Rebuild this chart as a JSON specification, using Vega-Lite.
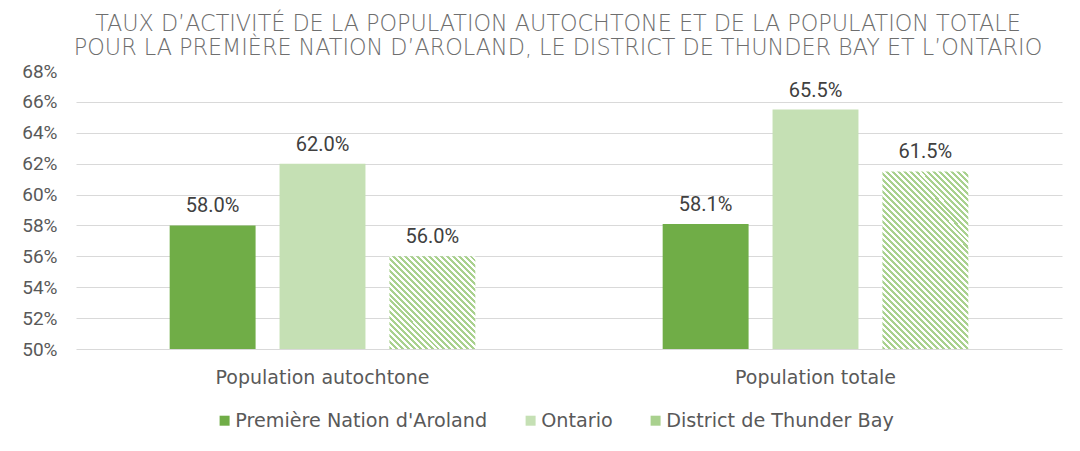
{
  "$schema": "https://vega.github.io/schema/vega-lite/v6.json",
  "width": 986,
  "height": 278,
  "autosize": {"type": "none"},
  "padding": {"left": 76, "top": 71, "right": 18, "bottom": 102},
  "background": "white",
  "config": {"view": {"stroke": null}},
  "title": {
    "text": ["TAUX D’ACTIVITÉ DE LA POPULATION AUTOCHTONE ET DE LA POPULATION TOTALE", "POUR LA PREMIÈRE NATION D’AROLAND, LE DISTRICT DE THUNDER BAY ET L’ONTARIO"],
    "anchor": "middle",
    "font": "DejaVu Sans",
    "fontSize": 22.3,
    "fontWeight": 200,
    "color": "#6e6e6e",
    "lineHeight": 24,
    "offset": 3,
    "dx": -11
  },
  "data": {
    "values": [
      {"group": "Population autochtone", "series": "Première Nation d'Aroland", "value": 0.58},
      {"group": "Population autochtone", "series": "Ontario", "value": 0.62},
      {"group": "Population autochtone", "series": "District de Thunder Bay", "value": 0.56},
      {"group": "Population totale", "series": "Première Nation d'Aroland", "value": 0.581},
      {"group": "Population totale", "series": "Ontario", "value": 0.655},
      {"group": "Population totale", "series": "District de Thunder Bay", "value": 0.615}
    ]
  },
  "encoding": {
    "x": {
      "field": "group", "type": "nominal", "sort": null,
      "scale": {"paddingInner": 0.38, "paddingOuter": 0.19},
      "axis": {"title": null, "labelAngle": 0, "ticks": false, "domain": false, "labelFont": "DejaVu Sans", "labelFontSize": 19, "labelColor": "#595959", "labelPadding": 19, "labelLimit": 600}
    },
    "xOffset": {
      "field": "series", "type": "nominal",
      "sort": ["Première Nation d'Aroland", "Ontario", "District de Thunder Bay"],
      "scale": {"paddingInner": 0.218, "paddingOuter": 0}
    },
    "y": {
      "field": "value", "type": "quantitative",
      "scale": {"domain": [0.5, 0.68], "nice": false, "zero": false},
      "axis": {
        "title": null, "format": ".0%", "values": [0.5, 0.52, 0.54, 0.56, 0.58, 0.6, 0.62, 0.64, 0.66, 0.68],
        "domain": false, "ticks": false, "labelPadding": 19, "labelFont": "Roboto", "labelFontSize": 19, "labelColor": "#595959",
        "gridColor": {"condition": {"test": "datum.value >= 0.679", "value": "transparent"}, "value": "#d9d9d9"}
      }
    }
  },
  "layer": [
    {
      "mark": {"type": "bar"},
      "encoding": {
        "y2": {"datum": 0.5},
        "color": {
          "condition": [
            {"test": "datum.series === 'District de Thunder Bay' && datum.group === 'Population autochtone'", "value": {"gradient": "linear", "x1": 0, "y1": 1, "x2": 0.961, "y2": -0.036, "stops": [
              {"offset": 0, "color": "#a9d18e"}, {"offset": 0.0167, "color": "#a9d18e"}, {"offset": 0.0167, "color": "#ffffff"}, {"offset": 0.0333, "color": "#ffffff"},
              {"offset": 0.0333, "color": "#a9d18e"}, {"offset": 0.05, "color": "#a9d18e"}, {"offset": 0.05, "color": "#ffffff"}, {"offset": 0.0667, "color": "#ffffff"},
              {"offset": 0.0667, "color": "#a9d18e"}, {"offset": 0.0833, "color": "#a9d18e"}, {"offset": 0.0833, "color": "#ffffff"}, {"offset": 0.1, "color": "#ffffff"},
              {"offset": 0.1, "color": "#a9d18e"}, {"offset": 0.1167, "color": "#a9d18e"}, {"offset": 0.1167, "color": "#ffffff"}, {"offset": 0.1333, "color": "#ffffff"},
              {"offset": 0.1333, "color": "#a9d18e"}, {"offset": 0.15, "color": "#a9d18e"}, {"offset": 0.15, "color": "#ffffff"}, {"offset": 0.1667, "color": "#ffffff"},
              {"offset": 0.1667, "color": "#a9d18e"}, {"offset": 0.1833, "color": "#a9d18e"}, {"offset": 0.1833, "color": "#ffffff"}, {"offset": 0.2, "color": "#ffffff"},
              {"offset": 0.2, "color": "#a9d18e"}, {"offset": 0.2167, "color": "#a9d18e"}, {"offset": 0.2167, "color": "#ffffff"}, {"offset": 0.2333, "color": "#ffffff"},
              {"offset": 0.2333, "color": "#a9d18e"}, {"offset": 0.25, "color": "#a9d18e"}, {"offset": 0.25, "color": "#ffffff"}, {"offset": 0.2667, "color": "#ffffff"},
              {"offset": 0.2667, "color": "#a9d18e"}, {"offset": 0.2833, "color": "#a9d18e"}, {"offset": 0.2833, "color": "#ffffff"}, {"offset": 0.3, "color": "#ffffff"},
              {"offset": 0.3, "color": "#a9d18e"}, {"offset": 0.3167, "color": "#a9d18e"}, {"offset": 0.3167, "color": "#ffffff"}, {"offset": 0.3333, "color": "#ffffff"},
              {"offset": 0.3333, "color": "#a9d18e"}, {"offset": 0.35, "color": "#a9d18e"}, {"offset": 0.35, "color": "#ffffff"}, {"offset": 0.3667, "color": "#ffffff"},
              {"offset": 0.3667, "color": "#a9d18e"}, {"offset": 0.3833, "color": "#a9d18e"}, {"offset": 0.3833, "color": "#ffffff"}, {"offset": 0.4, "color": "#ffffff"},
              {"offset": 0.4, "color": "#a9d18e"}, {"offset": 0.4167, "color": "#a9d18e"}, {"offset": 0.4167, "color": "#ffffff"}, {"offset": 0.4333, "color": "#ffffff"},
              {"offset": 0.4333, "color": "#a9d18e"}, {"offset": 0.45, "color": "#a9d18e"}, {"offset": 0.45, "color": "#ffffff"}, {"offset": 0.4667, "color": "#ffffff"},
              {"offset": 0.4667, "color": "#a9d18e"}, {"offset": 0.4833, "color": "#a9d18e"}, {"offset": 0.4833, "color": "#ffffff"}, {"offset": 0.5, "color": "#ffffff"},
              {"offset": 0.5, "color": "#a9d18e"}, {"offset": 0.5167, "color": "#a9d18e"}, {"offset": 0.5167, "color": "#ffffff"}, {"offset": 0.5333, "color": "#ffffff"},
              {"offset": 0.5333, "color": "#a9d18e"}, {"offset": 0.55, "color": "#a9d18e"}, {"offset": 0.55, "color": "#ffffff"}, {"offset": 0.5667, "color": "#ffffff"},
              {"offset": 0.5667, "color": "#a9d18e"}, {"offset": 0.5833, "color": "#a9d18e"}, {"offset": 0.5833, "color": "#ffffff"}, {"offset": 0.6, "color": "#ffffff"},
              {"offset": 0.6, "color": "#a9d18e"}, {"offset": 0.6167, "color": "#a9d18e"}, {"offset": 0.6167, "color": "#ffffff"}, {"offset": 0.6333, "color": "#ffffff"},
              {"offset": 0.6333, "color": "#a9d18e"}, {"offset": 0.65, "color": "#a9d18e"}, {"offset": 0.65, "color": "#ffffff"}, {"offset": 0.6667, "color": "#ffffff"},
              {"offset": 0.6667, "color": "#a9d18e"}, {"offset": 0.6833, "color": "#a9d18e"}, {"offset": 0.6833, "color": "#ffffff"}, {"offset": 0.7, "color": "#ffffff"},
              {"offset": 0.7, "color": "#a9d18e"}, {"offset": 0.7167, "color": "#a9d18e"}, {"offset": 0.7167, "color": "#ffffff"}, {"offset": 0.7333, "color": "#ffffff"},
              {"offset": 0.7333, "color": "#a9d18e"}, {"offset": 0.75, "color": "#a9d18e"}, {"offset": 0.75, "color": "#ffffff"}, {"offset": 0.7667, "color": "#ffffff"},
              {"offset": 0.7667, "color": "#a9d18e"}, {"offset": 0.7833, "color": "#a9d18e"}, {"offset": 0.7833, "color": "#ffffff"}, {"offset": 0.8, "color": "#ffffff"},
              {"offset": 0.8, "color": "#a9d18e"}, {"offset": 0.8167, "color": "#a9d18e"}, {"offset": 0.8167, "color": "#ffffff"}, {"offset": 0.8333, "color": "#ffffff"},
              {"offset": 0.8333, "color": "#a9d18e"}, {"offset": 0.85, "color": "#a9d18e"}, {"offset": 0.85, "color": "#ffffff"}, {"offset": 0.8667, "color": "#ffffff"},
              {"offset": 0.8667, "color": "#a9d18e"}, {"offset": 0.8833, "color": "#a9d18e"}, {"offset": 0.8833, "color": "#ffffff"}, {"offset": 0.9, "color": "#ffffff"},
              {"offset": 0.9, "color": "#a9d18e"}, {"offset": 0.9167, "color": "#a9d18e"}, {"offset": 0.9167, "color": "#ffffff"}, {"offset": 0.9333, "color": "#ffffff"},
              {"offset": 0.9333, "color": "#a9d18e"}, {"offset": 0.95, "color": "#a9d18e"}, {"offset": 0.95, "color": "#ffffff"}, {"offset": 0.9667, "color": "#ffffff"},
              {"offset": 0.9667, "color": "#a9d18e"}, {"offset": 0.9833, "color": "#a9d18e"}, {"offset": 0.9833, "color": "#ffffff"}, {"offset": 1, "color": "#ffffff"}
            ]}},
            {"test": "datum.series === 'District de Thunder Bay' && datum.group === 'Population totale'", "value": {"gradient": "linear", "x1": 0, "y1": 1, "x2": 0.582, "y2": -0.202, "stops": [
              {"offset": 0, "color": "#a9d18e"}, {"offset": 0.0114, "color": "#a9d18e"}, {"offset": 0.0114, "color": "#ffffff"}, {"offset": 0.0227, "color": "#ffffff"},
              {"offset": 0.0227, "color": "#a9d18e"}, {"offset": 0.0341, "color": "#a9d18e"}, {"offset": 0.0341, "color": "#ffffff"}, {"offset": 0.0455, "color": "#ffffff"},
              {"offset": 0.0455, "color": "#a9d18e"}, {"offset": 0.0568, "color": "#a9d18e"}, {"offset": 0.0568, "color": "#ffffff"}, {"offset": 0.0682, "color": "#ffffff"},
              {"offset": 0.0682, "color": "#a9d18e"}, {"offset": 0.0795, "color": "#a9d18e"}, {"offset": 0.0795, "color": "#ffffff"}, {"offset": 0.0909, "color": "#ffffff"},
              {"offset": 0.0909, "color": "#a9d18e"}, {"offset": 0.1023, "color": "#a9d18e"}, {"offset": 0.1023, "color": "#ffffff"}, {"offset": 0.1136, "color": "#ffffff"},
              {"offset": 0.1136, "color": "#a9d18e"}, {"offset": 0.125, "color": "#a9d18e"}, {"offset": 0.125, "color": "#ffffff"}, {"offset": 0.1364, "color": "#ffffff"},
              {"offset": 0.1364, "color": "#a9d18e"}, {"offset": 0.1477, "color": "#a9d18e"}, {"offset": 0.1477, "color": "#ffffff"}, {"offset": 0.1591, "color": "#ffffff"},
              {"offset": 0.1591, "color": "#a9d18e"}, {"offset": 0.1705, "color": "#a9d18e"}, {"offset": 0.1705, "color": "#ffffff"}, {"offset": 0.1818, "color": "#ffffff"},
              {"offset": 0.1818, "color": "#a9d18e"}, {"offset": 0.1932, "color": "#a9d18e"}, {"offset": 0.1932, "color": "#ffffff"}, {"offset": 0.2045, "color": "#ffffff"},
              {"offset": 0.2045, "color": "#a9d18e"}, {"offset": 0.2159, "color": "#a9d18e"}, {"offset": 0.2159, "color": "#ffffff"}, {"offset": 0.2273, "color": "#ffffff"},
              {"offset": 0.2273, "color": "#a9d18e"}, {"offset": 0.2386, "color": "#a9d18e"}, {"offset": 0.2386, "color": "#ffffff"}, {"offset": 0.25, "color": "#ffffff"},
              {"offset": 0.25, "color": "#a9d18e"}, {"offset": 0.2614, "color": "#a9d18e"}, {"offset": 0.2614, "color": "#ffffff"}, {"offset": 0.2727, "color": "#ffffff"},
              {"offset": 0.2727, "color": "#a9d18e"}, {"offset": 0.2841, "color": "#a9d18e"}, {"offset": 0.2841, "color": "#ffffff"}, {"offset": 0.2955, "color": "#ffffff"},
              {"offset": 0.2955, "color": "#a9d18e"}, {"offset": 0.3068, "color": "#a9d18e"}, {"offset": 0.3068, "color": "#ffffff"}, {"offset": 0.3182, "color": "#ffffff"},
              {"offset": 0.3182, "color": "#a9d18e"}, {"offset": 0.3295, "color": "#a9d18e"}, {"offset": 0.3295, "color": "#ffffff"}, {"offset": 0.3409, "color": "#ffffff"},
              {"offset": 0.3409, "color": "#a9d18e"}, {"offset": 0.3523, "color": "#a9d18e"}, {"offset": 0.3523, "color": "#ffffff"}, {"offset": 0.3636, "color": "#ffffff"},
              {"offset": 0.3636, "color": "#a9d18e"}, {"offset": 0.375, "color": "#a9d18e"}, {"offset": 0.375, "color": "#ffffff"}, {"offset": 0.3864, "color": "#ffffff"},
              {"offset": 0.3864, "color": "#a9d18e"}, {"offset": 0.3977, "color": "#a9d18e"}, {"offset": 0.3977, "color": "#ffffff"}, {"offset": 0.4091, "color": "#ffffff"},
              {"offset": 0.4091, "color": "#a9d18e"}, {"offset": 0.4205, "color": "#a9d18e"}, {"offset": 0.4205, "color": "#ffffff"}, {"offset": 0.4318, "color": "#ffffff"},
              {"offset": 0.4318, "color": "#a9d18e"}, {"offset": 0.4432, "color": "#a9d18e"}, {"offset": 0.4432, "color": "#ffffff"}, {"offset": 0.4545, "color": "#ffffff"},
              {"offset": 0.4545, "color": "#a9d18e"}, {"offset": 0.4659, "color": "#a9d18e"}, {"offset": 0.4659, "color": "#ffffff"}, {"offset": 0.4773, "color": "#ffffff"},
              {"offset": 0.4773, "color": "#a9d18e"}, {"offset": 0.4886, "color": "#a9d18e"}, {"offset": 0.4886, "color": "#ffffff"}, {"offset": 0.5, "color": "#ffffff"},
              {"offset": 0.5, "color": "#a9d18e"}, {"offset": 0.5114, "color": "#a9d18e"}, {"offset": 0.5114, "color": "#ffffff"}, {"offset": 0.5227, "color": "#ffffff"},
              {"offset": 0.5227, "color": "#a9d18e"}, {"offset": 0.5341, "color": "#a9d18e"}, {"offset": 0.5341, "color": "#ffffff"}, {"offset": 0.5455, "color": "#ffffff"},
              {"offset": 0.5455, "color": "#a9d18e"}, {"offset": 0.5568, "color": "#a9d18e"}, {"offset": 0.5568, "color": "#ffffff"}, {"offset": 0.5682, "color": "#ffffff"},
              {"offset": 0.5682, "color": "#a9d18e"}, {"offset": 0.5795, "color": "#a9d18e"}, {"offset": 0.5795, "color": "#ffffff"}, {"offset": 0.5909, "color": "#ffffff"},
              {"offset": 0.5909, "color": "#a9d18e"}, {"offset": 0.6023, "color": "#a9d18e"}, {"offset": 0.6023, "color": "#ffffff"}, {"offset": 0.6136, "color": "#ffffff"},
              {"offset": 0.6136, "color": "#a9d18e"}, {"offset": 0.625, "color": "#a9d18e"}, {"offset": 0.625, "color": "#ffffff"}, {"offset": 0.6364, "color": "#ffffff"},
              {"offset": 0.6364, "color": "#a9d18e"}, {"offset": 0.6477, "color": "#a9d18e"}, {"offset": 0.6477, "color": "#ffffff"}, {"offset": 0.6591, "color": "#ffffff"},
              {"offset": 0.6591, "color": "#a9d18e"}, {"offset": 0.6705, "color": "#a9d18e"}, {"offset": 0.6705, "color": "#ffffff"}, {"offset": 0.6818, "color": "#ffffff"},
              {"offset": 0.6818, "color": "#a9d18e"}, {"offset": 0.6932, "color": "#a9d18e"}, {"offset": 0.6932, "color": "#ffffff"}, {"offset": 0.7045, "color": "#ffffff"},
              {"offset": 0.7045, "color": "#a9d18e"}, {"offset": 0.7159, "color": "#a9d18e"}, {"offset": 0.7159, "color": "#ffffff"}, {"offset": 0.7273, "color": "#ffffff"},
              {"offset": 0.7273, "color": "#a9d18e"}, {"offset": 0.7386, "color": "#a9d18e"}, {"offset": 0.7386, "color": "#ffffff"}, {"offset": 0.75, "color": "#ffffff"},
              {"offset": 0.75, "color": "#a9d18e"}, {"offset": 0.7614, "color": "#a9d18e"}, {"offset": 0.7614, "color": "#ffffff"}, {"offset": 0.7727, "color": "#ffffff"},
              {"offset": 0.7727, "color": "#a9d18e"}, {"offset": 0.7841, "color": "#a9d18e"}, {"offset": 0.7841, "color": "#ffffff"}, {"offset": 0.7955, "color": "#ffffff"},
              {"offset": 0.7955, "color": "#a9d18e"}, {"offset": 0.8068, "color": "#a9d18e"}, {"offset": 0.8068, "color": "#ffffff"}, {"offset": 0.8182, "color": "#ffffff"},
              {"offset": 0.8182, "color": "#a9d18e"}, {"offset": 0.8295, "color": "#a9d18e"}, {"offset": 0.8295, "color": "#ffffff"}, {"offset": 0.8409, "color": "#ffffff"},
              {"offset": 0.8409, "color": "#a9d18e"}, {"offset": 0.8523, "color": "#a9d18e"}, {"offset": 0.8523, "color": "#ffffff"}, {"offset": 0.8636, "color": "#ffffff"},
              {"offset": 0.8636, "color": "#a9d18e"}, {"offset": 0.875, "color": "#a9d18e"}, {"offset": 0.875, "color": "#ffffff"}, {"offset": 0.8864, "color": "#ffffff"},
              {"offset": 0.8864, "color": "#a9d18e"}, {"offset": 0.8977, "color": "#a9d18e"}, {"offset": 0.8977, "color": "#ffffff"}, {"offset": 0.9091, "color": "#ffffff"},
              {"offset": 0.9091, "color": "#a9d18e"}, {"offset": 0.9205, "color": "#a9d18e"}, {"offset": 0.9205, "color": "#ffffff"}, {"offset": 0.9318, "color": "#ffffff"},
              {"offset": 0.9318, "color": "#a9d18e"}, {"offset": 0.9432, "color": "#a9d18e"}, {"offset": 0.9432, "color": "#ffffff"}, {"offset": 0.9545, "color": "#ffffff"},
              {"offset": 0.9545, "color": "#a9d18e"}, {"offset": 0.9659, "color": "#a9d18e"}, {"offset": 0.9659, "color": "#ffffff"}, {"offset": 0.9773, "color": "#ffffff"},
              {"offset": 0.9773, "color": "#a9d18e"}, {"offset": 0.9886, "color": "#a9d18e"}, {"offset": 0.9886, "color": "#ffffff"}, {"offset": 1, "color": "#ffffff"}
            ]}}
          ],
          "field": "series", "type": "nominal",
          "sort": ["Première Nation d'Aroland", "Ontario", "District de Thunder Bay"],
          "scale": {"domain": ["Première Nation d'Aroland", "Ontario", "District de Thunder Bay"], "range": ["#70ad47", "#c5e0b4", "#a9d18e"]},
          "legend": {
            "title": null, "orient": "none", "legendX": 139, "legendY": 340, "direction": "horizontal",
            "symbolType": "square", "symbolSize": 100, "symbolStrokeWidth": 0,
            "labelFont": "DejaVu Sans", "labelFontSize": 19.2, "labelColor": "#595959", "labelOffset": 1, "labelLimit": 600, "columnPadding": 33,
            "encode": {"symbols": {"update": {"fill": [
              {"test": "datum.value === 'District de Thunder Bay'", "value": {"gradient": "linear", "x1": 0, "y1": 1, "x2": 1, "y2": 0, "stops": [
                {"offset": 0, "color": "#a9d18e"}, {"offset": 0.1667, "color": "#a9d18e"}, {"offset": 0.1667, "color": "#ffffff"}, {"offset": 0.3333, "color": "#ffffff"},
                {"offset": 0.3333, "color": "#a9d18e"}, {"offset": 0.5, "color": "#a9d18e"}, {"offset": 0.5, "color": "#ffffff"}, {"offset": 0.6667, "color": "#ffffff"},
                {"offset": 0.6667, "color": "#a9d18e"}, {"offset": 0.8333, "color": "#a9d18e"}, {"offset": 0.8333, "color": "#ffffff"}, {"offset": 1, "color": "#ffffff"}
              ]}},
              {"scale": "color", "field": "value"}
            ]}}}
          }
        }
      }
    },
    {
      "mark": {"type": "text", "baseline": "alphabetic", "dy": -13, "font": "Roboto", "fontSize": 20, "color": "#404040"},
      "encoding": {
        "text": {"field": "value", "type": "quantitative", "format": ".1%"}
      }
    }
  ]
}
